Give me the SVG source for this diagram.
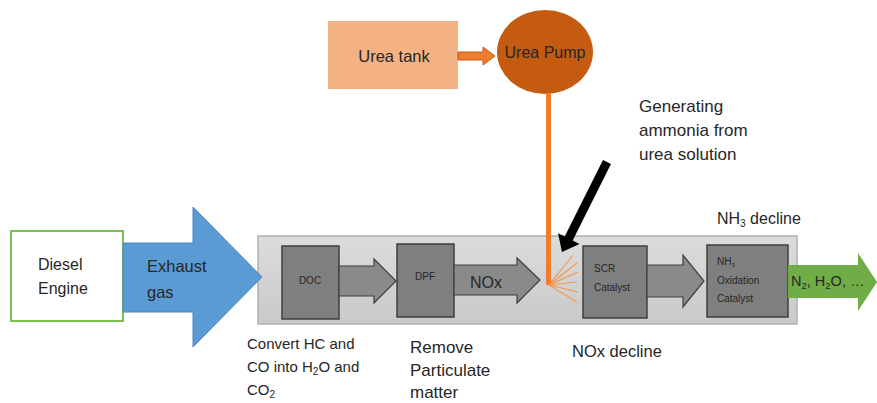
<svg xmlns="http://www.w3.org/2000/svg" width="877" height="403" viewBox="0 0 877 403">
  <defs>
    <linearGradient id="housing" x1="0" y1="0" x2="0" y2="1">
      <stop offset="0" stop-color="#dcdcdc"/>
      <stop offset="1" stop-color="#c9c9c9"/>
    </linearGradient>
  </defs>
  <style>
    text { font-family: "Liberation Sans", Arial, sans-serif; fill: #262626; }
    .lbl { font-size: 16px; }
    .note { font-size: 17px; }
    .small { font-size: 10px; }
    .unit { fill: #7f7f7f; stroke: #3f3f3f; stroke-width: 1.5; }
    .flow { fill: #8a8a8a; stroke: #3f3f3f; stroke-width: 1.2; }
    .spray { stroke: #f79646; stroke-width: 1.1; fill: none; }
  </style>

  <rect width="877" height="403" fill="#ffffff"/>

  <!-- after-treatment housing -->
  <g id="housing-box">
    <rect x="258" y="236" width="539" height="88" fill="url(#housing)" stroke="#b0b0b0" stroke-width="1.5"/>
  </g>

  <!-- engine -->
  <g id="engine">
    <rect x="11" y="231" width="112" height="90" fill="#ffffff" stroke="#7cc04e" stroke-width="2"/>
    <text class="lbl" x="38" y="270">Diesel</text>
    <text class="lbl" x="38" y="294">Engine</text>
  </g>

  <!-- urea supply -->
  <g id="urea-tank">
    <rect x="328" y="21" width="130" height="68" fill="#f4b183"/>
    <text x="394" y="62" font-size="16.5" text-anchor="middle">Urea tank</text>
  </g>
  <g id="urea-pump">
    <ellipse cx="545" cy="52" rx="48" ry="42" fill="#c55a11"/>
    <text class="lbl" x="545" y="58" text-anchor="middle">Urea Pump</text>
  </g>

  <!-- catalyst units -->
  <g id="doc">
    <rect class="unit" x="282" y="246" width="57" height="73"/>
    <text class="small" x="310" y="284" text-anchor="middle">DOC</text>
  </g>
  <g id="dpf">
    <rect class="unit" x="397" y="244" width="57" height="73"/>
    <text class="small" x="425" y="280" text-anchor="middle">DPF</text>
  </g>
  <g id="scr">
    <rect class="unit" x="583" y="246" width="64" height="72"/>
    <text class="small" x="594" y="272">SCR</text>
    <text class="small" x="594" y="291">Catalyst</text>
  </g>
  <g id="nh3-oxidation">
    <rect class="unit" x="707" y="245" width="81" height="72"/>
    <text class="small" x="717" y="265">NH<tspan font-size="6" dy="2">3</tspan></text>
    <text class="small" x="717" y="284">Oxidation</text>
    <text class="small" x="717" y="302">Catalyst</text>
  </g>

  <!-- connectors -->
  <g id="connectors">
    <!-- exhaust gas -->
    <path d="M123,243 L193,243 L193,207 L262,277 L193,347 L193,312 L123,312 Z" fill="#5b9bd5" stroke="#4a86c0" stroke-width="1"/>
    <text x="147" y="272" font-size="16.5">Exhaust</text>
    <text x="147" y="298" font-size="16.5">gas</text>

    <!-- DOC to DPF -->
    <path class="flow" d="M339,266 L374,266 L374,259 L396,281 L374,303 L374,296 L339,296 Z"/>
    <!-- DPF to dosing point -->
    <path class="flow" d="M454,265 L517,265 L517,258 L540,280 L517,303 L517,295 L454,295 Z"/>
    <text x="470" y="288" font-size="16">NOx</text>
    <!-- SCR to NH3 oxidation -->
    <path class="flow" d="M647,265 L683,265 L683,255 L704,281 L683,307 L683,297 L647,297 Z"/>
    <!-- clean gas out -->
    <path d="M788,265 L858,265 L858,253 L877,282 L858,311 L858,298 L788,298 Z" fill="#70ad47"/>
    <text x="791" y="286" font-size="14.5" fill="#1a1a1a">N<tspan font-size="9.5" dy="3">2</tspan><tspan dy="-3">, H</tspan><tspan font-size="9.5" dy="3">2</tspan><tspan dy="-3">O, …</tspan></text>

    <!-- tank to pump -->
    <path d="M458,52 L483,52 L483,47 L495,56 L483,65 L483,60 L458,60 Z" fill="#ed7d31" stroke="#c55a11" stroke-width="1"/>
    <!-- pump feed line to injector -->
    <rect x="546" y="93" width="5" height="192" fill="#ed7d31"/>
    <!-- urea spray -->
    <g class="spray">
      <line x1="549" y1="285" x2="573" y2="255"/>
      <line x1="549" y1="285" x2="577" y2="263"/>
      <line x1="549" y1="285" x2="578" y2="272"/>
      <line x1="549" y1="285" x2="577" y2="282"/>
      <line x1="549" y1="285" x2="578" y2="292"/>
      <line x1="549" y1="285" x2="577" y2="302"/>
    </g>
    <!-- pointer to dosing point -->
    <polygon points="611,164 572.7,240.6 579.5,244 562,252 558,233.2 564.7,236.6 603,160" fill="#000"/>
  </g>

  <!-- annotations -->
  <g id="annotations">
    <text class="note" x="639" y="112">Generating</text>
    <text class="note" x="639" y="136">ammonia from</text>
    <text class="note" x="639" y="160">urea solution</text>
    <text class="lbl" x="717" y="224">NH<tspan font-size="10" dy="3">3</tspan><tspan dy="-3"> decline</tspan></text>
    <text x="247" y="349" font-size="15">Convert HC and</text>
    <text x="247" y="372" font-size="15">CO into H<tspan font-size="10" dy="3">2</tspan><tspan dy="-3">O and</tspan></text>
    <text x="247" y="395" font-size="15">CO<tspan font-size="10" dy="3">2</tspan></text>
    <text x="410" y="353" font-size="17">Remove</text>
    <text x="410" y="376" font-size="17">Particulate</text>
    <text x="410" y="398" font-size="17">matter</text>
    <text x="572" y="357" font-size="16.5">NOx decline</text>
  </g>
</svg>
